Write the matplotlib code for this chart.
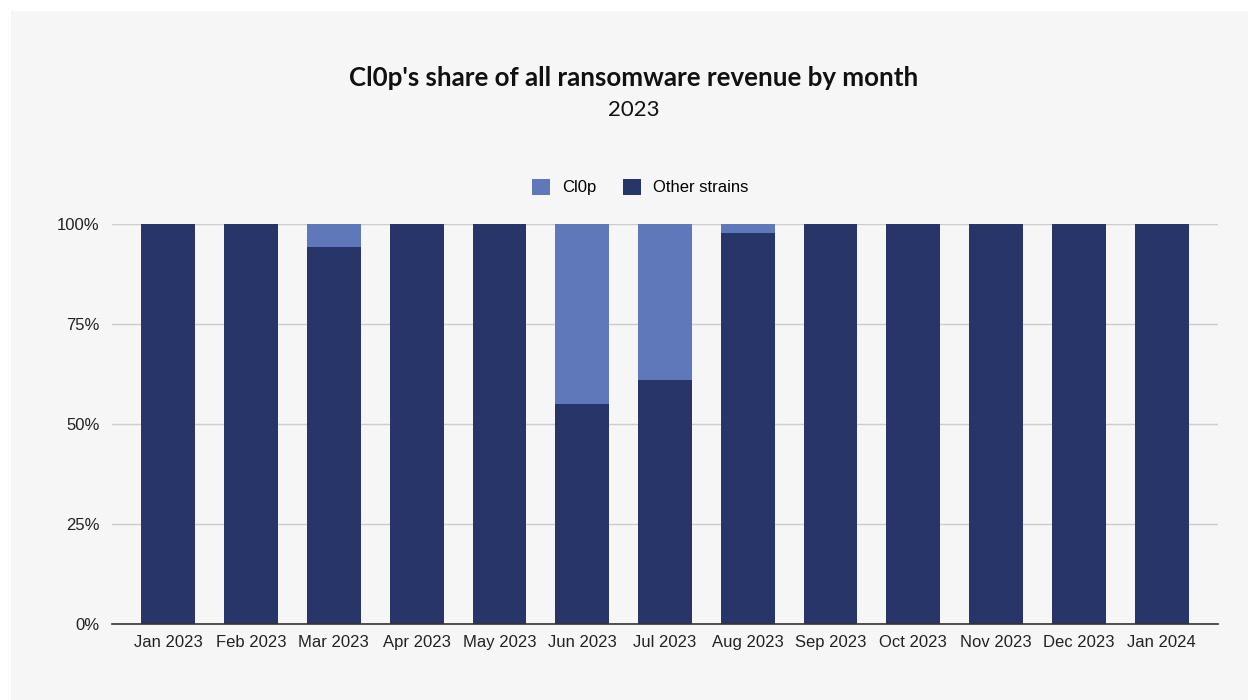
import numpy as np
import matplotlib.pyplot as plt
from matplotlib.patches import Rectangle
from matplotlib.ticker import FuncFormatter

months = ["Jan 2023", "Feb 2023", "Mar 2023", "Apr 2023", "May 2023", "Jun 2023",
          "Jul 2023", "Aug 2023", "Sep 2023", "Oct 2023", "Nov 2023", "Dec 2023", "Jan 2024"]
other_share = [100, 100, 94.2, 100, 100, 55.1, 61.0, 97.7, 100, 100, 100, 100, 100]
clop_share = [100 - v for v in other_share]

dark = "#283569"
light = "#5f78b9"

fig = plt.figure(figsize=(12.48, 7), dpi=100)
fig.patch.set_facecolor("white")
fig.patches.append(Rectangle((11 / 1248, 0), 1 - 11 / 1248, 1 - 11 / 700,
                             transform=fig.transFigure, facecolor="#f6f6f6",
                             edgecolor="none", zorder=-10))

ax = fig.add_axes([112 / 1248, 76 / 700, 1106 / 1248, 400 / 700])
ax.set_facecolor("none")

x = np.arange(len(months))
ax.bar(x, other_share, width=0.65, color=dark, label="Other strains", zorder=3)
ax.bar(x, clop_share, bottom=other_share, width=0.65, color=light, label="Cl0p", zorder=3)

ax.set_xlim(-0.68, len(months) - 0.32)
ax.set_ylim(0, 100)
ax.set_yticks([0, 25, 50, 75, 100])
ax.yaxis.set_major_formatter(FuncFormatter(lambda v, p: f"{int(v)}%"))
ax.set_xticks(x)
ax.set_xticklabels(months)
ax.tick_params(axis="both", length=0, labelsize=12, colors="#222222")
ax.tick_params(axis="y", pad=9)
ax.tick_params(axis="x", pad=8)
for lab in ax.get_xticklabels() + ax.get_yticklabels():
    lab.set_family("Liberation Sans")

ax.grid(axis="y", color="#cccccc", linewidth=1, zorder=0)
for s in ["top", "right", "left"]:
    ax.spines[s].set_visible(False)
ax.spines["bottom"].set_color("#333333")
ax.spines["bottom"].set_linewidth(1.2)
ax.spines["bottom"].set_zorder(4)

fig.text(634 / 1248, 1 - 78 / 700, "Cl0p's share of all ransomware revenue by month",
         ha="center", va="center", fontsize=18.6, fontweight="bold", family="Lato",
         color="#111111")
fig.text(634 / 1248, 1 - 110 / 700, "2023", ha="center", va="center",
         fontsize=16, family="Lato", color="#111111")

handles, labels = ax.get_legend_handles_labels()
fig.legend(handles[::-1], labels[::-1], loc="center", bbox_to_anchor=(640 / 1248, 1 - 187 / 700),
           ncol=2, frameon=False, prop={"family": "Liberation Sans", "size": 12},
           handlelength=1.1, handleheight=1.1, columnspacing=1.6, handletextpad=0.7)

plt.savefig("out.png", dpi=100, facecolor=fig.get_facecolor())
